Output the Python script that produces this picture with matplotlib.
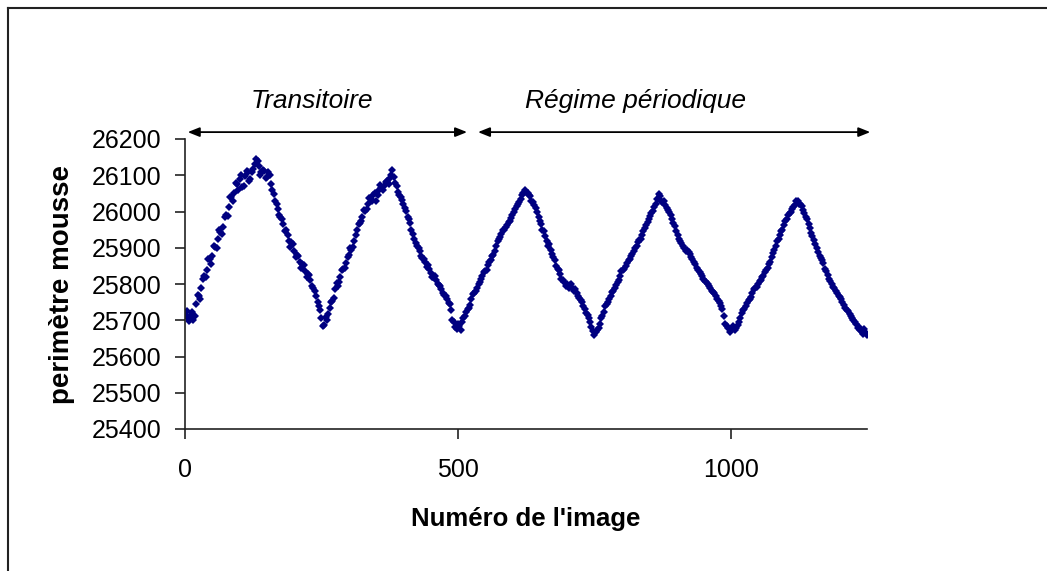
import numpy as np
import matplotlib
matplotlib.use("Agg")
import matplotlib.pyplot as plt
from matplotlib.lines import Line2D

plt.rcParams['font.family'] = ['Liberation Sans', 'DejaVu Sans']

# two interleaved samplings of the image sequence
frames_a = np.arange(0, 1255, 5)
frames_b = np.arange(3, 1250, 5)

# foam perimeter (pixels) per frame
perimetre_a = [
    25718, 25705, 25712, 25700, 25745, 25768, 25790, 25822, 25840, 25868,
    25876, 25902, 25925, 25944, 25958, 25990, 26012, 26040, 26052, 26075,
    26090, 26068, 26098, 26108, 26090, 26118, 26145, 26125, 26108, 26112,
    26095, 26102, 26060, 26030, 26008, 25985, 25966, 25950, 25920, 25915,
    25892, 25880, 25862, 25855, 25835, 25828, 25812, 25790, 25768, 25740,
    25705, 25688, 25700, 25735, 25752, 25785, 25795, 25820, 25842, 25858,
    25880, 25895, 25918, 25950, 25968, 25985, 26002, 26020, 26035, 26045,
    26030, 26058, 26066, 26070, 26085, 26092, 26115, 26080, 26055, 26040,
    26020, 26002, 25980, 25950, 25925, 25905, 25890, 25872, 25860, 25852,
    25830, 25820, 25810, 25798, 25785, 25770, 25760, 25745, 25700, 25682,
    25690, 25672, 25705, 25722, 25735, 25760, 25775, 25790, 25805, 25822,
    25835, 25852, 25865, 25880, 25905, 25925, 25938, 25950, 25962, 25975,
    25990, 26008, 26022, 26035, 26050, 26055, 26045, 26030, 26018, 26000,
    25975, 25950, 25932, 25905, 25895, 25875, 25850, 25840, 25815, 25805,
    25800, 25798, 25790, 25785, 25768, 25755, 25740, 25720, 25705, 25682,
    25660, 25672, 25690, 25712, 25738, 25750, 25768, 25780, 25798, 25812,
    25835, 25842, 25858, 25870, 25882, 25898, 25915, 25925, 25945, 25962,
    25978, 25995, 26012, 26035, 26042, 26025, 26018, 26005, 25990, 25968,
    25945, 25925, 25912, 25900, 25895, 25882, 25870, 25855, 25838, 25828,
    25815, 25805, 25795, 25782, 25775, 25760, 25748, 25730, 25690, 25680,
    25672, 25685, 25678, 25695, 25720, 25730, 25748, 25760, 25775, 25790,
    25800, 25812, 25822, 25840, 25855, 25875, 25895, 25918, 25935, 25950,
    25975, 25990, 26000, 26012, 26028, 26022, 26015, 25995, 25978, 25955,
    25932, 25910, 25888, 25872, 25858, 25835, 25815, 25800, 25790, 25775,
    25765, 25750, 25735, 25725, 25712, 25700, 25690, 25682, 25668, 25675,
    25658,
]

perimetre_b = [
    25725, 25698, 25722, 25712, 25770, 25760, 25815, 25818, 25870, 25855,
    25905, 25898, 25950, 25938, 25985, 25988, 26040, 26030, 26080, 26060,
    26100, 26070, 26112, 26085, 26110, 26130, 26138, 26100, 26115, 26092,
    26110, 26075, 26048, 26022, 25990, 25978, 25945, 25935, 25902, 25910,
    25875, 25878, 25845, 25852, 25820, 25825, 25795, 25782, 25750, 25728,
    25685, 25710, 25718, 25750, 25762, 25802, 25805, 25838, 25845, 25875,
    25898, 25902, 25935, 25965, 25975, 26005, 26008, 26038, 26028, 26052,
    26045, 26072, 26058, 26082, 26075, 26100, 26095, 26070, 26045, 26032,
    26010, 25985, 25968, 25938, 25912, 25900, 25878, 25868, 25848, 25842,
    25818, 25822, 25800, 25795, 25775, 25768, 25748, 25728, 25695, 25675,
    25685, 25695, 25712, 25732, 25742, 25772, 25780, 25800, 25815, 25832,
    25840, 25862, 25878, 25890, 25918, 25930, 25948, 25958, 25972, 25982,
    26000, 26015, 26025, 26045, 26060, 26050, 26042, 26025, 26010, 25985,
    25965, 25945, 25918, 25910, 25882, 25865, 25842, 25828, 25810, 25795,
    25790, 25800, 25780, 25775, 25762, 25750, 25732, 25715, 25695, 25670,
    25668, 25678, 25705, 25722, 25745, 25758, 25778, 25790, 25805, 25822,
    25838, 25850, 25865, 25878, 25892, 25905, 25922, 25935, 25955, 25970,
    25988, 26002, 26022, 26048, 26030, 26028, 26010, 25998, 25978, 25960,
    25935, 25918, 25905, 25890, 25888, 25875, 25862, 25845, 25832, 25822,
    25808, 25800, 25788, 25778, 25768, 25752, 25738, 25712, 25685, 25668,
    25680, 25672, 25688, 25705, 25728, 25738, 25755, 25765, 25785, 25792,
    25808, 25820, 25832, 25845, 25862, 25885, 25905, 25925, 25945, 25962,
    25980, 25995, 26008, 26018, 26030, 26020, 26005, 25985, 25965, 25942,
    25922, 25900, 25878, 25865, 25842, 25825, 25808, 25792, 25782, 25768,
    25758, 25742, 25728, 25718, 25705, 25695, 25680, 25672, 25662, 25665,
]

yticks = [25400, 25500, 25600, 25700, 25800, 25900, 26000, 26100, 26200]
xticks = [0, 500, 1000]

# phases marked above the curve: label, arrow start, arrow end, label centre
phase_labels = ["Transitoire", "Régime périodique"]
phase_start = [5, 537]
phase_end = [517, 1256]
phase_text_x = [233, 825]

W, H = 1047, 571
fig = plt.figure(figsize=(W / 100, H / 100), dpi=100)
ax = fig.add_axes([185 / W, 1 - 429 / H, 682 / W, 290 / H])

for fr, per in ((frames_a, perimetre_a), (frames_b, perimetre_b)):
    ax.plot(fr, per, linestyle='none', marker='D', markersize=4.2,
            color='#000080', markeredgewidth=0)

ax.set_xlim(0, 1250)
ax.set_ylim(25400, 26200)
ax.set_xticks(xticks)
ax.set_yticks(yticks)
ax.spines['top'].set_visible(False)
ax.spines['right'].set_visible(False)
for s in ('left', 'bottom'):
    ax.spines[s].set_linewidth(1.2)
    ax.spines[s].set_color('#222222')
ax.tick_params(axis='both', direction='out', length=7, width=1.2,
               color='#222222', labelsize=18)
ax.tick_params(axis='y', pad=10)
ax.tick_params(axis='x', pad=14)

ax.set_xlabel("Numéro de l'image", fontsize=18.5, fontweight='bold', labelpad=18)
ax.set_ylabel("perimètre mousse", fontsize=20, fontweight='bold', labelpad=12)

arrow_y = 26219
for label, x0, x1, xt in zip(phase_labels, phase_start, phase_end, phase_text_x):
    ax.annotate('', xy=(x1, arrow_y), xytext=(x0, arrow_y),
                annotation_clip=False,
                arrowprops=dict(arrowstyle='<|-|>,head_length=0.7,head_width=0.28',
                                color='black', lw=1.3, shrinkA=0, shrinkB=0))
    ax.text(xt, 26285, label, fontsize=19, style='italic',
            ha='center', va='baseline', clip_on=False)

# frame border, only the left and top edges fall inside the image
fig.add_artist(Line2D([7.5 / W, 7.5 / W], [0, 1 - 8 / H], color='#222222', lw=1.5))
fig.add_artist(Line2D([7.5 / W, 1], [1 - 8 / H, 1 - 8 / H], color='#222222', lw=1.5))

fig.savefig('out.png', dpi=100)
